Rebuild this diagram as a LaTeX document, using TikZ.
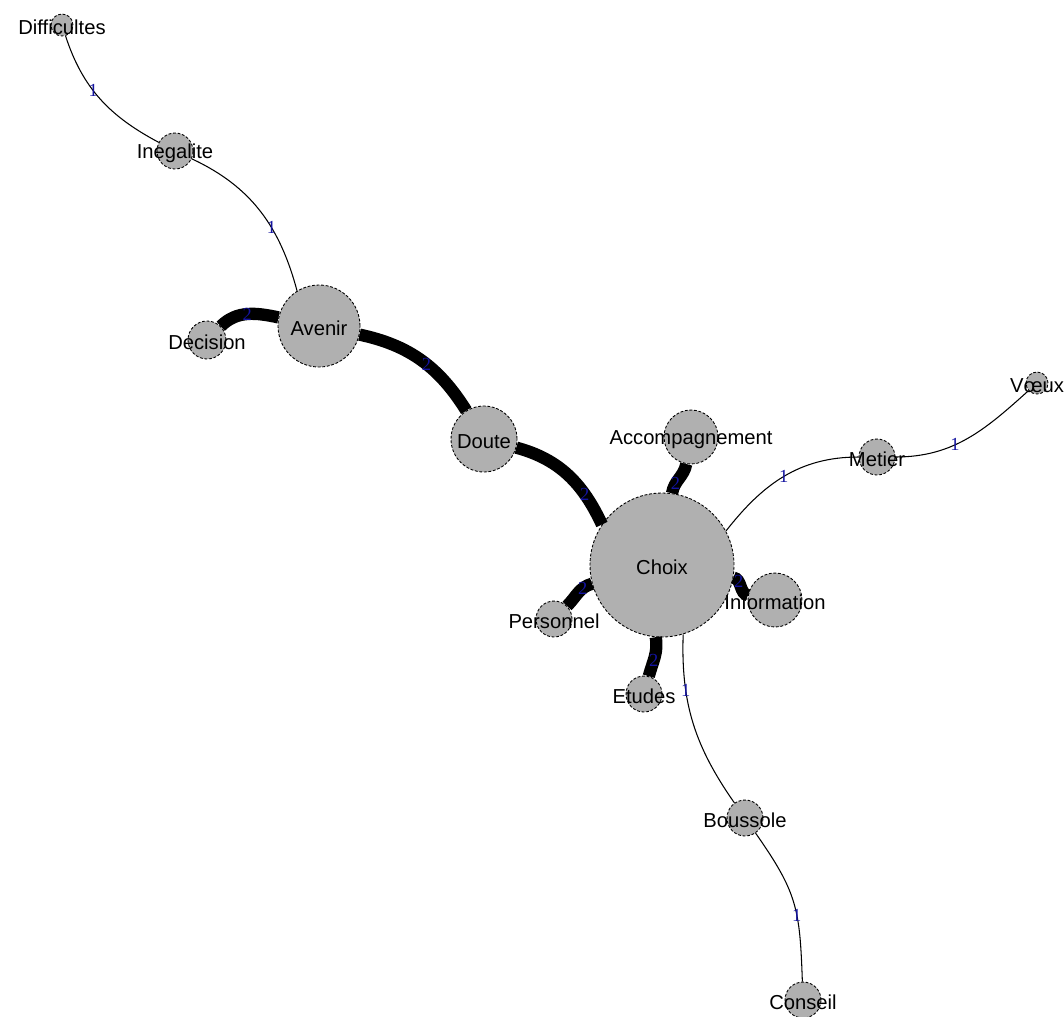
\documentclass[tikz,border=0pt]{standalone}
\usepackage{fontspec}
\setmainfont{Liberation Sans}
\newfontfamily\numfont{Liberation Serif}
\usepackage{tikz}
\usetikzlibrary{arrows,positioning}

\definecolor{nodegray}{RGB}{176,176,176}
\definecolor{lblblue}{RGB}{20,20,160}

\begin{document}
\begin{tikzpicture}[x=1cm,y=1cm,semithick]
  \tikzstyle{word}=[circle,fill=nodegray,draw=black,line width=0.5pt,dash pattern=on 1.6pt off 1pt,inner sep=0pt]
  \tikzstyle{wlabel}=[font=\fontsize{11.5}{13}\selectfont,text=black,inner sep=0pt,yshift=-1.5pt]
  \tikzstyle{strong}=[line width=7pt,draw=black]
  \tikzstyle{weak}=[line width=0.6pt,draw=black]
  \tikzstyle{count}=[font=\numfont\fontsize{10.5}{12}\selectfont,text=lblblue,inner sep=0pt]
  \useasboundingbox (0,0) rectangle (21.28,-20.32);

	\node[word, minimum size=0.44cm, label={[wlabel]center:Difficultes}] (difficultes) at (1.24,-0.50) {};
	\node[word, minimum size=0.72cm, label={[wlabel]center:Inegalite}] (inegalite) at (3.50,-3.02) {};
	\node[word, minimum size=1.64cm, label={[wlabel]center:Avenir}] (avenir) at (6.38,-6.52) {};
	\node[word, minimum size=0.76cm, label={[wlabel]center:Decision}] (decision) at (4.14,-6.80) {};
	\node[word, minimum size=1.32cm, label={[wlabel]center:Doute}] (doute) at (9.68,-8.78) {};
	\node[word, minimum size=2.88cm, label={[wlabel]center:Choix}] (choix) at (13.24,-11.30) {};
	\node[word, minimum size=1.08cm, label={[wlabel]center:Accompagnement}] (accompagnement) at (13.82,-8.74) {};
	\node[word, minimum size=0.72cm, label={[wlabel]center:Metier}] (metier) at (17.54,-9.14) {};
	\node[word, minimum size=0.44cm, label={[wlabel]center:Vœux}] (voeux) at (20.74,-7.66) {};
	\node[word, minimum size=1.08cm, label={[wlabel]center:Information}] (information) at (15.50,-12.00) {};
	\node[word, minimum size=0.72cm, label={[wlabel]center:Personnel}] (personnel) at (11.08,-12.38) {};
	\node[word, minimum size=0.72cm, label={[wlabel]center:Etudes}] (etudes) at (12.88,-13.88) {};
	\node[word, minimum size=0.72cm, label={[wlabel]center:Boussole}] (boussole) at (14.90,-16.36) {};
	\node[word, minimum size=0.72cm, label={[wlabel]center:Conseil}] (conseil) at (16.06,-20.00) {};

	\path
	(difficultes) edge[weak, out=-72, in=152] node[count, pos=.42]{1} (inegalite)
	(inegalite) edge[weak, out=-25, in=105] node[count, pos=.62]{1} (avenir.122)
	(decision) edge[strong, out=45, in=168] node[count, pos=.5]{2} (avenir)
	(avenir) edge[strong, out=-12, in=122] node[count, pos=.55]{2} (doute)
	(doute) edge[strong, out=-15, in=115] node[count, pos=.72]{2} (choix.146)
	(choix) edge[strong, out=82, in=-100] node[count, pos=.3]{2} (accompagnement)
	(choix.28) edge[weak, out=52, in=180] node[count, pos=.5]{1} (metier)
	(metier) edge[weak, out=0, in=222] node[count, pos=.4]{1} (voeux)
	(choix) edge[strong, out=-10, in=170] node[count, pos=.3]{2} (information)
	(choix) edge[strong, out=195, in=45] node[count, pos=.3]{2} (personnel)
	(choix.-95) edge[strong, out=-80, in=75] node[count, pos=.6]{2} (etudes)
	(choix.-73) edge[weak, out=-92, in=125] node[count, pos=.3]{1} (boussole)
	(boussole) edge[weak, out=-55, in=92, looseness=1.2] node[count, pos=.6]{1} (conseil);
\end{tikzpicture}
\end{document}
